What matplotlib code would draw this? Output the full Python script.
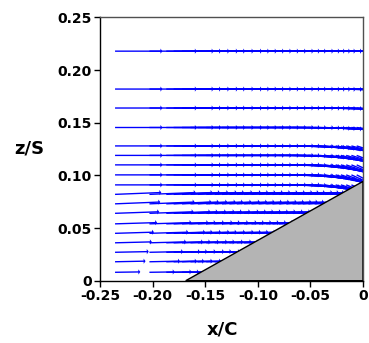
import numpy as np
import matplotlib.pyplot as plt
from matplotlib.patches import Polygon

plt.rcParams['font.family'] = ['DejaVu Sans']
plt.rcParams['font.weight'] = 'bold'

# grid of vector start points
x_cols = [-0.2357, -0.203, -0.187, -0.180, -0.172, -0.164, -0.157, -0.149,
          -0.141, -0.134, -0.127, -0.120, -0.113, -0.106, -0.099, -0.092,
          -0.086, -0.080, -0.073, -0.067, -0.062, -0.057, -0.052, -0.046,
          -0.041, -0.036, -0.031, -0.026, -0.021, -0.016, -0.011, -0.006]
z_rows = [0.218, 0.182, 0.164, 0.1455, 0.128, 0.119, 0.110, 0.1005, 0.091,
          0.082, 0.073, 0.064, 0.054, 0.045, 0.036, 0.027, 0.018, 0.008]

# streamwise vector length per row
u_rows = [0.045, 0.045, 0.045, 0.045, 0.045, 0.045, 0.045, 0.045, 0.045,
          0.044, 0.043, 0.042, 0.040, 0.037, 0.035, 0.032, 0.029, 0.024]
# downward turning near the leading edge (per row / per column)
bend_rows = [0.0, 0.05, 0.1, 0.25, 0.6, 0.75, 0.9, 1.0, 1.0,
             0, 0, 0, 0, 0, 0, 0, 0, 0]
bend_cols = [0] * 17 + [0.01, 0.02, 0.04, 0.05, 0.07, 0.09, 0.12, 0.15,
                        0.19, 0.23, 0.28, 0.33, 0.39, 0.45, 0.52]
# slight upwash over the ramp
rise_rows = [0, 0, 0, 0, 0, 0, 0, 0, 0,
             0.04, 0.04, 0.035, 0.03, 0.03, 0.025, 0.02, 0.02, 0.015]

# wedge
wedge_x = [-0.1685, 0.0, 0.0]
wedge_z = [0.0, 0.0943, 0.0]

X, Z, U, W = [], [], [], []
for i, z in enumerate(z_rows):
    for j, x in enumerate(x_cols):
        if x > wedge_x[0] and z < wedge_z[1] * (x - wedge_x[0]) / (0 - wedge_x[0]):
            continue
        u = u_rows[i]
        X.append(x)
        Z.append(z)
        U.append(u)
        W.append(u * (rise_rows[i] - bend_rows[i] * bend_cols[j]))

fig = plt.figure(figsize=(3.69, 3.43), dpi=100)
ax = fig.add_axes([0.271, 0.1816, 0.7127, 0.7675])

ax.quiver(X, Z, U, W, angles='xy', scale_units='xy', scale=1, color='#0000ff',
          width=0.0052, headwidth=3.8, headlength=1.4, headaxislength=1.4, zorder=2)

ax.add_patch(Polygon(list(zip(wedge_x, wedge_z)), closed=True, facecolor='#b4b4b4',
                     edgecolor='black', linewidth=1.0, zorder=3))

ax.set_xlim(-0.25, 0)
ax.set_ylim(0, 0.25)
xt = [-0.25, -0.20, -0.15, -0.10, -0.05, 0]
yt = [0, 0.05, 0.10, 0.15, 0.20, 0.25]
ax.set_xticks(xt)
ax.set_xticklabels(['-0.25', '-0.20', '-0.15', '-0.10', '-0.05', '0'])
ax.set_yticks(yt)
ax.set_yticklabels(['0', '0.05', '0.10', '0.15', '0.20', '0.25'])
ax.tick_params(direction='out', length=4, width=1, labelsize=10, pad=2)

for s in ['left', 'bottom']:
    ax.spines[s].set_color('black')
    ax.spines[s].set_linewidth(1.0)
for s in ['top', 'right']:
    ax.spines[s].set_color('#505050')
    ax.spines[s].set_linewidth(1.0)

ax.set_xlabel('x/C', fontsize=13, fontweight='bold')
ax.xaxis.set_label_coords(0.464, -0.15)
ax.set_ylabel('z/S', fontsize=13, fontweight='bold', rotation=0)
ax.yaxis.set_label_coords(-0.27, 0.467)

fig.savefig('out.png', dpi=100)
